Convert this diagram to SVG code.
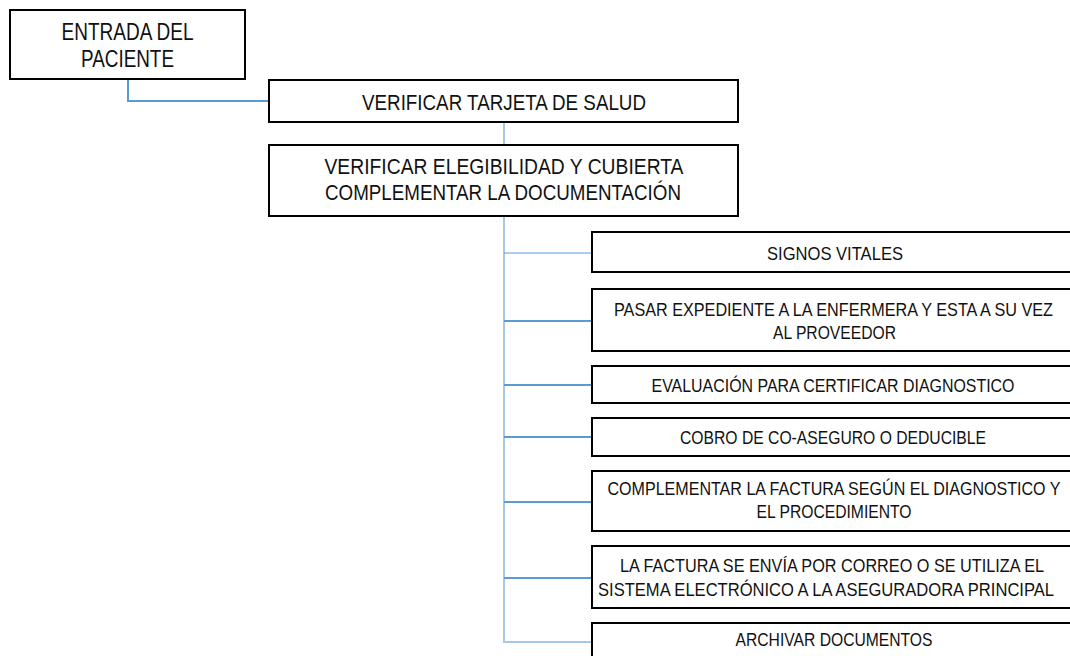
<svg xmlns="http://www.w3.org/2000/svg" width="1070" height="656" viewBox="0 0 1070 656">
<style>
.box{fill:#fff;stroke:#000;stroke-width:2}
.t{font-family:"Liberation Sans Narrow","Liberation Sans",Arial,sans-serif;fill:#111;text-anchor:middle}
.big{font-size:22px}
.sm{font-size:18px}
.c1{stroke:#5B9BD5;stroke-width:2;fill:none}
.c2{stroke:#A7C7E7;stroke-width:2;fill:none}
</style>
<rect width="1070" height="656" fill="#fff"/>
<g id="connectors">
<path class="c1" d="M128 79V101H269"/>
<path class="c2" d="M504 122V145"/>
<path class="c2" d="M504 216V642H592"/>
<path class="c1" style="stroke-width:1.2" d="M504 253H592"/>
<path class="c1" d="M504 321H592"/>
<path class="c1" d="M504 385H592"/>
<path class="c1" d="M504 437H592"/>
<path class="c1" d="M504 502H592"/>
<path class="c1" d="M504 578H592"/>
</g>
<g id="n1">
<rect class="box" x="10" y="10" width="235" height="69"/>
<text class="t" style="font-size:23px" x="127.5" y="39.5" textLength="132" lengthAdjust="spacingAndGlyphs">ENTRADA DEL</text>
<text class="t" style="font-size:23px" x="127.5" y="67" textLength="93" lengthAdjust="spacingAndGlyphs">PACIENTE</text>
</g>
<g id="n2">
<rect class="box" x="269" y="80" width="469" height="42"/>
<text class="t big" x="504" y="109.5" textLength="284" lengthAdjust="spacingAndGlyphs">VERIFICAR TARJETA DE SALUD</text>
</g>
<g id="n3">
<rect class="box" x="269" y="145" width="469" height="71"/>
<text class="t big" x="504" y="173.5" textLength="359" lengthAdjust="spacingAndGlyphs">VERIFICAR ELEGIBILIDAD Y CUBIERTA</text>
<text class="t big" x="503" y="200" textLength="356" lengthAdjust="spacingAndGlyphs">COMPLEMENTAR LA DOCUMENTACIÓN</text>
</g>
<g id="n4">
<rect class="box" x="592" y="232" width="486" height="40"/>
<text class="t sm" x="835" y="259.5" textLength="136" lengthAdjust="spacingAndGlyphs">SIGNOS VITALES</text>
</g>
<g id="n5">
<rect class="box" x="592" y="289" width="486" height="62"/>
<text class="t sm" x="833.5" y="316" textLength="439" lengthAdjust="spacingAndGlyphs">PASAR EXPEDIENTE  A LA ENFERMERA Y ESTA A SU VEZ</text>
<text class="t sm" x="834.5" y="338.5" textLength="123" lengthAdjust="spacingAndGlyphs">AL PROVEEDOR</text>
</g>
<g id="n6">
<rect class="box" x="592" y="366" width="486" height="37"/>
<text class="t sm" x="833" y="391.5" textLength="363" lengthAdjust="spacingAndGlyphs">EVALUACIÓN  PARA CERTIFICAR DIAGNOSTICO</text>
</g>
<g id="n7">
<rect class="box" x="592" y="418" width="486" height="38"/>
<text class="t sm" x="833" y="443.5" textLength="306" lengthAdjust="spacingAndGlyphs">COBRO DE CO-ASEGURO O DEDUCIBLE</text>
</g>
<g id="n8">
<rect class="box" x="592" y="471" width="486" height="60"/>
<text class="t sm" x="834" y="494.5" textLength="453" lengthAdjust="spacingAndGlyphs">COMPLEMENTAR LA FACTURA SEGÚN EL DIAGNOSTICO Y</text>
<text class="t sm" x="834" y="518" textLength="155" lengthAdjust="spacingAndGlyphs">EL PROCEDIMIENTO</text>
</g>
<g id="n9">
<rect class="box" x="592" y="546" width="486" height="62"/>
<text class="t sm" x="832" y="572" textLength="424" lengthAdjust="spacingAndGlyphs">LA FACTURA SE ENVÍA POR CORREO O SE UTILIZA EL</text>
<text class="t sm" x="826" y="596" textLength="456" lengthAdjust="spacingAndGlyphs">SISTEMA ELECTRÓNICO A LA ASEGURADORA  PRINCIPAL</text>
</g>
<g id="n10">
<rect class="box" x="592" y="623" width="486" height="42"/>
<text class="t sm" x="834" y="646" textLength="197" lengthAdjust="spacingAndGlyphs">ARCHIVAR  DOCUMENTOS</text>
</g>
</svg>
